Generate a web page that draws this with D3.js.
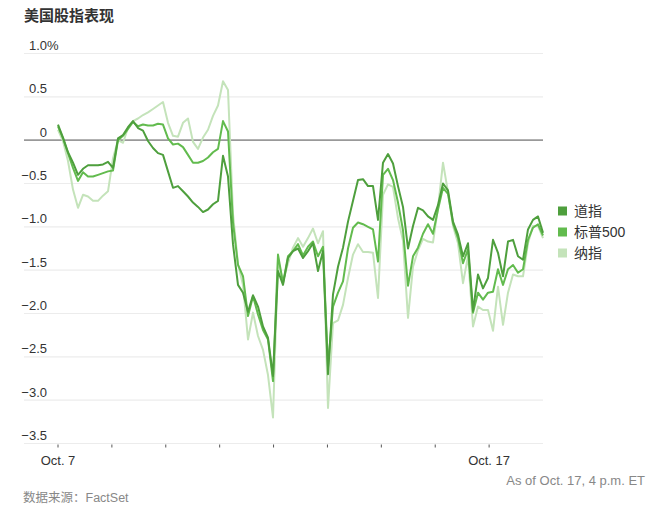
<!DOCTYPE html>
<html>
<head>
<meta charset="utf-8">
<script src="https://cdn.jsdelivr.net/npm/d3@7/dist/d3.min.js"></script>
<style>
  body { margin: 0; background: #fff; }
  svg text { font-family: "Liberation Sans", Arial, "Noto Sans CJK SC", sans-serif; }
</style>
</head>
<body>
<div id="chart"></div>
<script>
// trading sessions on the x axis (only first and last are labelled)
const sessions = ["Oct. 7", "Oct. 8", "Oct. 9", "Oct. 10", "Oct. 11", "Oct. 14", "Oct. 15", "Oct. 16", "Oct. 17"]
const labelledSessions = ["Oct. 7", "Oct. 17"]

const seriesNames = ["道指", "标普500", "纳指"]

// % change, evenly spaced intraday samples
const dow = [0.18, 0.03, -0.14, -0.26, -0.40, -0.33, -0.29, -0.29, -0.29, -0.28,
  -0.25, -0.32, 0.02, 0.06, 0.15, 0.22, 0.14, 0.11, -0.01, -0.09,
  -0.15, -0.17, -0.36, -0.55, -0.53, -0.59, -0.65, -0.72, -0.77, -0.83,
  -0.80, -0.74, -0.70, -0.18, -0.42, -1.20, -1.67, -1.76, -1.98, -1.79,
  -1.92, -2.15, -2.28, -2.72, -1.51, -1.67, -1.36, -1.28, -1.25, -1.36,
  -1.28, -1.19, -1.51, -1.28, -2.70, -1.78, -1.46, -1.24, -0.94, -0.70,
  -0.46, -0.45, -0.53, -0.53, -0.92, -0.26, -0.16, -0.27, -0.53, -0.77,
  -1.25, -0.99, -0.78, -0.81, -0.88, -0.92, -0.75, -0.50, -0.58, -0.94,
  -1.09, -1.34, -1.19, -1.97, -1.55, -1.71, -1.59, -1.15, -1.30, -1.57,
  -1.17, -1.15, -1.34, -1.38, -1.03, -0.92, -0.88, -1.07]

const sp500 = [0.16, 0.02, -0.15, -0.32, -0.47, -0.37, -0.42, -0.42, -0.40, -0.38,
  -0.36, -0.35, 0.00, 0.05, 0.13, 0.21, 0.16, 0.18, 0.17, 0.17,
  0.19, 0.18, 0.02, -0.05, -0.04, -0.08, -0.17, -0.26, -0.26, -0.24,
  -0.20, -0.14, -0.10, 0.22, 0.10, -0.95, -1.44, -1.57, -2.03, -1.80,
  -2.01, -2.19, -2.30, -2.78, -1.32, -1.65, -1.34, -1.28, -1.20, -1.33,
  -1.23, -1.17, -1.34, -1.23, -2.62, -1.92, -1.76, -1.63, -1.25, -1.01,
  -0.95, -0.97, -1.00, -1.03, -1.40, -0.40, -0.33, -0.46, -0.72, -1.04,
  -1.68, -1.34, -1.24, -1.08, -0.97, -1.08, -0.80, -0.55, -0.62, -0.96,
  -1.13, -1.42, -1.26, -1.99, -1.76, -1.84, -1.76, -1.75, -1.49, -1.67,
  -1.49, -1.44, -1.53, -1.49, -1.15, -1.01, -0.97, -1.10]

const nasdaq = [0.12, -0.01, -0.24, -0.57, -0.78, -0.63, -0.65, -0.70, -0.70, -0.64,
  -0.59, -0.21, 0.00, -0.03, 0.14, 0.22, 0.25, 0.29, 0.32, 0.36,
  0.40, 0.44, 0.20, 0.05, 0.04, 0.20, 0.25, -0.02, -0.10, 0.03,
  0.12, 0.28, 0.40, 0.68, 0.58, -0.85, -1.43, -1.67, -2.30, -1.99,
  -2.26, -2.42, -2.71, -3.20, -1.38, -1.63, -1.42, -1.24, -1.13, -1.23,
  -1.13, -1.02, -1.19, -1.05, -3.09, -2.11, -2.08, -1.90, -1.59, -1.32,
  -1.20, -1.29, -1.29, -1.30, -1.82, -0.63, -0.51, -0.54, -0.90, -1.16,
  -2.05, -1.46, -1.27, -1.14, -1.17, -1.18, -0.78, -0.26, -0.60, -0.99,
  -1.19, -1.65, -1.34, -2.15, -1.92, -1.96, -1.96, -2.20, -1.69, -2.13,
  -1.76, -1.55, -1.57, -1.57, -1.19, -0.99, -0.99, -1.13]

const yTicks = [1, 0.5, 0, -0.5, -1, -1.5, -2, -2.5, -3, -3.5]

async function drawChart() {

  const width = 660
  const height = 513
  const colors = ["#4e9f3d", "#62bb4e", "#c4e3ba"]

  const svg = d3.select("#chart")
    .append("svg")
      .attr("width", width)
      .attr("height", height)

  // scales
  const x = d3.scaleLinear()
    .domain([0, sessions.length])
    .range([58, 543])
  const y = d3.scaleLinear()
    .domain([-3.5, 1])
    .range([443.5, 53.5])

  // title
  svg.append("text")
    .attr("x", 24)
    .attr("y", 21)
    .attr("font-size", 15)
    .attr("font-weight", "bold")
    .attr("fill", "#333")
    .text("美国股指表现")

  // gridlines + y labels
  const grid = svg.append("g")
  grid.selectAll("line")
    .data(yTicks)
    .join("line")
      .attr("x1", 24)
      .attr("x2", 543)
      .attr("y1", d => y(d))
      .attr("y2", d => y(d))
      .attr("stroke", d => d == 0 ? "#999" : "#ececec")
      .attr("stroke-width", d => d == 0 ? 1.6 : 1.2)

  const fmt = d => d == 0 ? "0" : d3.format(".1f")(d)
  grid.selectAll("text")
    .data(yTicks)
    .join("text")
      .attr("x", 47)
      .attr("y", d => y(d) - 3.5)
      .attr("text-anchor", "end")
      .attr("font-size", 13)
      .attr("fill", "#333")
      .text(fmt)
  grid.append("text")
    .attr("x", 47)
    .attr("y", y(yTicks[0]) - 3.5)
    .attr("font-size", 13)
    .attr("fill", "#333")
    .text("%")

  // x ticks
  const xAxis = svg.append("g")
  xAxis.selectAll("line")
    .data(sessions)
    .join("line")
      .attr("x1", (d, i) => x(i))
      .attr("x2", (d, i) => x(i))
      .attr("y1", y(-3.5) + 1)
      .attr("y2", y(-3.5) + 4)
      .attr("stroke", "#555")
      .attr("stroke-width", 1)
  xAxis.selectAll("text")
    .data(sessions)
    .join("text")
      .attr("x", (d, i) => x(i))
      .attr("y", 465)
      .attr("text-anchor", "middle")
      .attr("font-size", 13)
      .attr("fill", "#333")
      .text(d => labelledSessions.includes(d) ? d : "")

  // lines, nasdaq underneath, dow on top
  const allSeries = [dow, sp500, nasdaq]
  const line = d3.line()
    .x((d, i, arr) => x(i * sessions.length / (arr.length - 1)))
    .y(d => y(d))

  svg.append("g")
    .selectAll("path")
    .data([2, 1, 0])
    .join("path")
      .attr("d", k => line(allSeries[k]))
      .attr("fill", "none")
      .attr("stroke", k => colors[k])
      .attr("stroke-width", 2)
      .attr("stroke-linejoin", "round")

  // legend
  const legend = svg.append("g")
    .selectAll("g")
    .data(seriesNames)
    .join("g")
      .attr("transform", (d, i) => `translate(558, ${211 + i * 21})`)
  legend.append("rect")
    .attr("x", 0)
    .attr("y", -4.5)
    .attr("width", 9)
    .attr("height", 9)
    .attr("fill", (d, i) => colors[i])
  legend.append("text")
    .attr("x", 16)
    .attr("y", 0)
    .attr("dy", "0.35em")
    .attr("font-size", 14)
    .attr("fill", "#333")
    .text(d => d)

  // footer
  svg.append("text")
    .attr("x", 645)
    .attr("y", 485)
    .attr("text-anchor", "end")
    .attr("font-size", 13)
    .attr("fill", "#888")
    .text("As of Oct. 17, 4 p.m. ET")
  svg.append("text")
    .attr("x", 23)
    .attr("y", 502)
    .attr("font-size", 12.5)
    .attr("fill", "#888")
    .text("数据来源：FactSet")
}

drawChart()
</script>
</body>
</html>
